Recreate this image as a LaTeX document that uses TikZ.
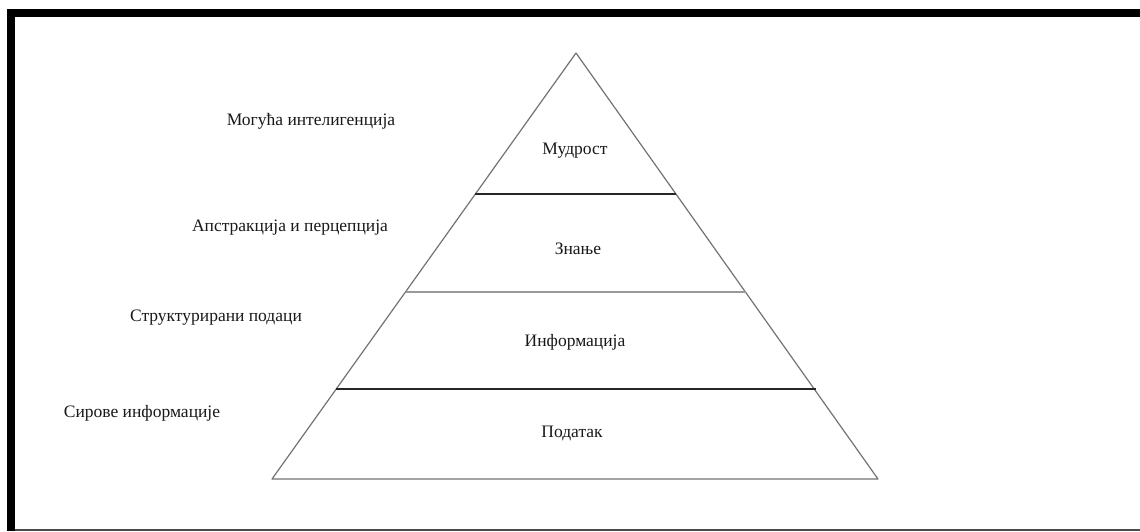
\documentclass[tikz,border=0pt]{standalone}
\usepackage{fontspec}
\setmainfont{Liberation Serif}
\begin{document}
\begin{tikzpicture}[x=1pt, y=-1pt, every node/.style={font=\fontsize{17.5}{19}\selectfont, text=black!90, inner sep=0pt},
  edge/.style={draw=black!55, line width=1.2pt},
  divider/.style={draw=black!85, line width=1.3pt},
  lightdivider/.style={draw=black!40, line width=1.5pt}]
\useasboundingbox (0,0) rectangle (1140,531);
\fill[white] (0,0) rectangle (1140,531);
% Frame
\fill[black] (7,9) rectangle (15,531);
\fill[black] (7,9) rectangle (1140,17);
\draw[black!70, line width=1.5pt] (15,530) -- (1140,530);
% Pyramid
\coordinate (apex) at (576,53);
\coordinate (bl) at (272,479);
\coordinate (br) at (878,479);
\draw[edge, line join=round] (apex) -- (bl) -- (br) -- cycle;
\draw[divider] (475,194) -- (676,194);
\draw[lightdivider] (406,292) -- (746,292);
\draw[divider] (336,389) -- (816,389);
% Levels
\node (wisdom) at (575,151) {Мудрост};
\node (knowledge) at (578,249) {Знање};
\node (information) at (575,342) {Информација};
\node (data) at (572,433) {Податак};
% Side labels
\node (intel) at (311,121) {Могућа интелигенција};
\node (abstr) at (290,228) {Апстракција и перцепција};
\node (struct) at (216,318) {Структурирани подаци};
\node (raw) at (142,413) {Сирове информације};
\end{tikzpicture}
\end{document}
